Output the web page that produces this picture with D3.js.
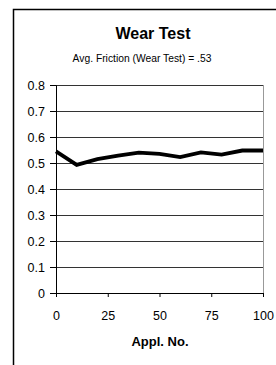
<!DOCTYPE html>
<html>
<head>
<meta charset="utf-8">
<script src="https://cdn.jsdelivr.net/npm/d3@7"></script>
<style>
  html, body { margin: 0; padding: 0; background: #fff; }
  svg { display: block; font-family: "Liberation Sans", Arial, sans-serif; }
</style>
</head>
<body>
<svg id="chart" width="276" height="365"></svg>
<script>
// data
const applNo = [0, 10, 20, 30, 40, 50, 60, 70, 80, 90, 100];
const friction = [0.545, 0.493, 0.515, 0.528, 0.54, 0.535, 0.523, 0.541, 0.532, 0.548, 0.548];
const yTicks = [0, 0.1, 0.2, 0.3, 0.4, 0.5, 0.6, 0.7, 0.8];
const xTicks = [0, 25, 50, 75, 100];

const svg = d3.select('#chart');

// outer frame (left + top edges only visible)
svg.append('path')
  .attr('d', 'M13.5,365 V9.5 H276')
  .attr('fill', 'none')
  .attr('stroke', '#000')
  .attr('stroke-width', 1.5);

const margin = { top: 85, left: 56, right: 13, bottom: 72 };
const width = 276 - margin.left - margin.right;
const height = 365 - margin.top - margin.bottom;

const g = svg.append('g').attr('transform', `translate(${margin.left},${margin.top})`);

const x = d3.scaleLinear().domain([0, 100]).range([0, width]);
const y = d3.scaleLinear().domain([0, 0.8]).range([height, 0]);

// Titel
svg.append('text')
  .attr('x', 153).attr('y', 38.5)
  .attr('text-anchor', 'middle')
  .attr('font-size', 16).attr('font-weight', 'bold')
  .text('Wear Test');

svg.append('text')
  .attr('x', 142).attr('y', 61.5)
  .attr('text-anchor', 'middle')
  .attr('font-size', 10.3)
  .text('Avg. Friction (Wear Test) = .53');

// Gitterlinien
g.append('g')
  .selectAll('line')
  .data(yTicks.filter(d => d > 0))
  .enter()
  .append('line')
  .attr('x1', 0).attr('x2', width)
  .attr('y1', d => Math.round(y(d)) + 0.5)
  .attr('y2', d => Math.round(y(d)) + 0.5)
  .attr('stroke', '#333')
  .attr('stroke-width', 1);

// right edge of plot area
g.append('line')
  .attr('x1', width + 0.5).attr('x2', width + 0.5)
  .attr('y1', 0).attr('y2', height)
  .attr('stroke', '#999');

// Y-Achse
const yAxis = g.append('g')
  .call(d3.axisLeft(y).tickValues(yTicks).tickSize(6).tickPadding(5)
    .tickFormat(d => d === 0 ? '0' : d3.format('.1f')(d)));
yAxis.select('.domain').attr('stroke', '#000');
yAxis.selectAll('text').attr('font-size', 12.5).attr('fill', '#000').attr('font-family', null);

// X-Achse
const xAxis = g.append('g')
  .attr('transform', `translate(0,${height})`)
  .call(d3.axisBottom(x).tickValues(xTicks).tickSize(4).tickPadding(14));
xAxis.select('.domain').attr('stroke', '#000');
xAxis.selectAll('text').attr('font-size', 12.5).attr('fill', '#000').attr('font-family', null);

svg.append('text')
  .attr('x', 160).attr('y', 346)
  .attr('text-anchor', 'middle')
  .attr('font-size', 13).attr('font-weight', 'bold')
  .text('Appl. No.');

// Linie
const line = d3.line()
  .x((d, i) => x(applNo[i]))
  .y(d => y(d));

g.append('path')
  .datum(friction)
  .attr('fill', 'none')
  .attr('stroke', '#000')
  .attr('stroke-width', 3.8)
  .attr('stroke-linejoin', 'miter')
  .attr('d', line);
</script>
</body>
</html>
